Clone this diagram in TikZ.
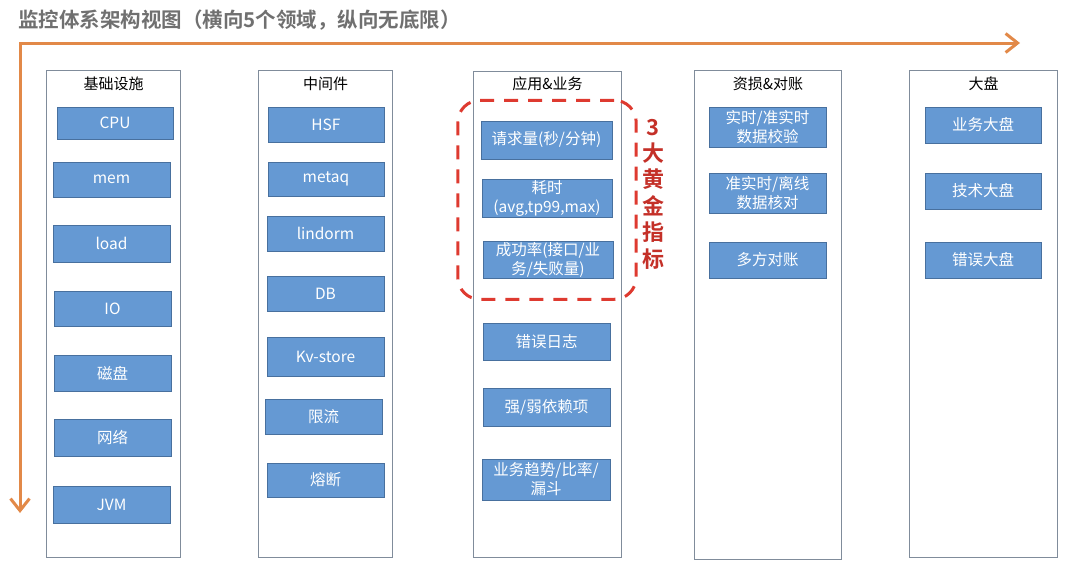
\documentclass[tikz,border=0pt]{standalone}
\usepackage{fontspec}
\setmainfont{Noto Sans CJK SC}[BoldFont={Noto Sans CJK SC Bold}]
\usetikzlibrary{arrows.meta,positioning,fit}

\definecolor{axisorange}{RGB}{226,137,72}
\definecolor{itemblue}{RGB}{101,153,211}
\definecolor{itemedge}{RGB}{72,112,158}
\definecolor{coledge}{RGB}{128,140,155}
\definecolor{goldred}{RGB}{222,58,48}
\definecolor{golddark}{RGB}{196,48,40}
\definecolor{titlegray}{RGB}{112,112,112}

\begin{document}
\begin{tikzpicture}[x=1pt, y=-1pt,
  font=\fontsize{15.5}{19}\selectfont,
  col/.style={draw=coledge, line width=1.1pt, anchor=north west, inner sep=0pt,
    minimum width=134, minimum height=487},
  head/.style={font=\fontsize{15}{18}\selectfont, inner sep=2pt},
  item/.style={draw=itemedge, fill=itemblue, text=white, align=center,
    inner sep=1pt, minimum width=117, minimum height=36},
  axis/.style={{Straight Barb[length=12pt, width=19pt]}-{Straight Barb[length=12pt, width=19pt]},
    line width=3pt, draw=axisorange},
  golden/.style={draw=goldred, line width=3pt, dash pattern=on 14pt off 10pt,
    rounded corners=22pt, inner xsep=23pt, inner ysep=20.5pt},
  goldnote/.style={font=\fontsize{22}{26.4}\selectfont\bfseries, text=golddark, align=center}
]
  \useasboundingbox (0,0) rectangle (1080,579);

  \node[anchor=west, inner sep=0pt, text=titlegray,
    font=\fontsize{20.5}{24}\selectfont\bfseries] (title) at (18,20)
    {监控体系架构视图（横向5个领域，纵向无底限）};

  \coordinate (xend) at (1020,43);
  \coordinate (yend) at (20,513);
  \draw[axis] (yend) |- (xend);

  \node[col] (infra) at (46,70) {};
  \node[col] (mid) at (258,70) {};
  \node[col, minimum width=148, minimum height=486] (app) at (473,71) {};
  \node[col, minimum width=147, minimum height=489] (loss) at (694,70) {};
  \node[col, minimum width=148] (board) at (909,70) {};

  \node[head, below=5pt of infra.north] (infrahead) {基础设施};
  \node[head, below=5pt of mid.north] (midhead) {中间件};
  \node[head, below=4pt of app.north] (apphead) {应用\&业务};
  \node[head, below=5pt of loss.north] (losshead) {资损\&对账};
  \node[head, below=5pt of board.north] (boardhead) {大盘};

  \node[item, minimum width=116, minimum height=32] (cpu) at (115,123) {CPU};
  \node[item, minimum height=35] (mem) at (111.5,179.5) {mem};
  \node[item, minimum height=37] (load) at (111.5,243.5) {load};
  \node[item, minimum height=35] (io) at (112.5,308.5) {IO};
  \node[item] (disk) at (112.5,373) {磁盘};
  \node[item, minimum height=37] (net) at (112.5,437.5) {网络};
  \node[item, minimum height=37] (jvm) at (111.5,504.5) {JVM};

  \node[item, minimum width=116, minimum height=35] (hsf) at (326,124.5) {HSF};
  \node[item, minimum width=116, minimum height=34] (metaq) at (326,179) {metaq};
  \node[item, minimum height=35] (lindorm) at (325.5,233.5) {lindorm};
  \node[item, minimum height=35] (db) at (325.5,293.5) {DB};
  \node[item, minimum height=39] (kv) at (325.5,356.5) {Kv-store};
  \node[item, minimum height=35] (limit) at (323.5,416.5) {限流};
  \node[item, minimum height=34] (fuse) at (325.5,480) {熔断};

  \node[item, minimum width=131, minimum height=38] (req) at (546.5,140) {请求量(秒/分钟)};
  \node[item, minimum width=130, minimum height=37] (lat) at (547,198.5) {耗时\\(avg,tp99,max)};
  \node[item, minimum width=130] (succ) at (548,260) {成功率(接口/业\\务/失败量)};
  \node[item, minimum width=127, minimum height=37] (errlog) at (546.5,341.5) {错误日志};
  \node[item, minimum width=127, minimum height=38] (dep) at (546.5,407) {强/弱依赖项};
  \node[item, minimum width=128, minimum height=41] (trend) at (546,479.5) {业务趋势/比率/\\漏斗};

  \node[golden, fit=(req)(lat)(succ)] (gold) {};
  \node[goldnote] (goldlabel) at (653,194) {3\\大\\黄\\金\\指\\标};

  \node[item, minimum height=40] (check) at (767.5,127) {实时/准实时\\数据校验};
  \node[item, minimum height=40] (recon) at (767.5,193) {准实时/离线\\数据核对};
  \node[item] (multi) at (767.5,260) {多方对账};

  \node[item, minimum width=116] (bizboard) at (983,125) {业务大盘};
  \node[item, minimum width=116] (techboard) at (983,191) {技术大盘};
  \node[item, minimum width=116] (errboard) at (983,260) {错误大盘};
\end{tikzpicture}
\end{document}
